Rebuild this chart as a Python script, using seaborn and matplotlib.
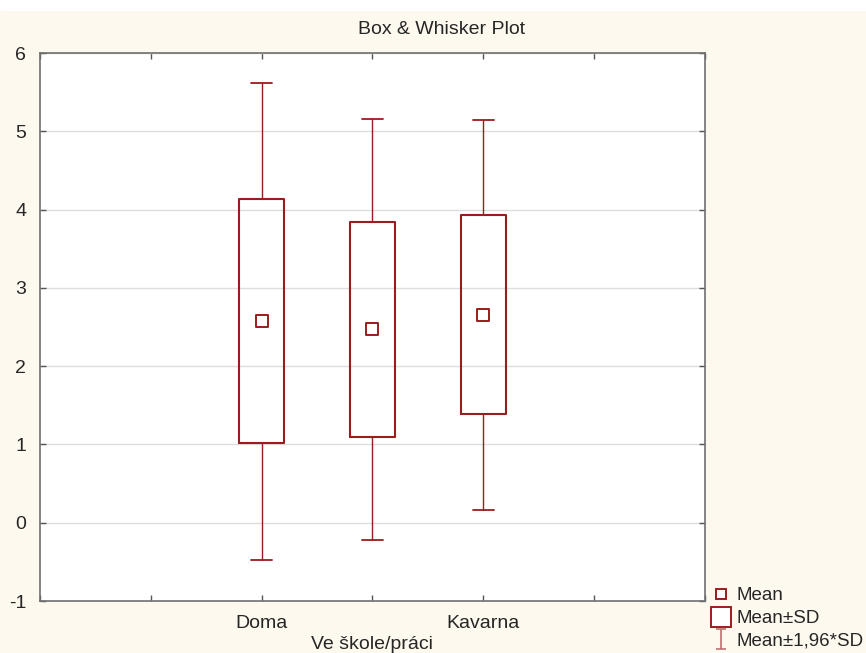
import matplotlib
matplotlib.use("Agg")
import matplotlib.pyplot as plt
import matplotlib.patches as mpatches
from matplotlib.lines import Line2D
from matplotlib.path import Path
import pandas as pd
import seaborn as sns

# data: mean and SD per group
categories = ["Doma", "Ve škole/práci", "Kavarna"]
means = [2.575, 2.47, 2.655]
sds = [1.555, 1.37, 1.27]
z = 1.96

RED = "#9b1c1c"
BG = "#fef9ee"

sns.set_theme(style="white")
plt.rcParams['font.family'] = ['Liberation Sans', 'DejaVu Sans']

df = pd.DataFrame({"group": categories, "mean": means, "sd": sds})
df["pos"] = range(len(df))

fig = plt.figure(figsize=(8.66, 6.53), dpi=100, facecolor=BG)
fig.patches.append(mpatches.Rectangle((0, 1 - 10 / 653), 1, 10 / 653,
                                      transform=fig.transFigure, color="white", zorder=-1))
ax = fig.add_axes([40 / 866, 1 - 601 / 653, 665 / 866, 548 / 653])
ax.set_facecolor("white")

# box = mean +- SD, whiskers = mean +- 1.96*SD
stats = []
for _, r in df.iterrows():
    stats.append({
        "med": r["mean"],
        "q1": r["mean"] - r["sd"],
        "q3": r["mean"] + r["sd"],
        "whislo": r["mean"] - z * r["sd"],
        "whishi": r["mean"] + z * r["sd"],
        "label": r["group"],
    })
ax.bxp(stats, positions=df["pos"], widths=0.4, showfliers=False,
       boxprops=dict(color=RED, linewidth=1.5),
       whiskerprops=dict(color=RED, linewidth=1.0),
       capprops=dict(color=RED, linewidth=1.3),
       medianprops=dict(linewidth=0),
       capwidths=0.19, manage_ticks=False)

sns.scatterplot(data=df, x="pos", y="mean", marker="s", s=75, color="white",
                edgecolor=RED, linewidth=1.4, ax=ax, zorder=5, legend=False)

ax.set_xlim(-2, 4)
ax.set_ylim(-1, 6)
ax.set_xticks(range(-2, 5))
labels = [""] * 7
for i, c in enumerate(categories):
    labels[i + 2] = c if i % 2 == 0 else "\n" + c
ax.set_xticklabels(labels, fontsize=14, linespacing=1.3)
ax.set_yticks(range(-1, 7))
ax.set_yticklabels([str(v) for v in range(-1, 7)], fontsize=14)
ax.yaxis.grid(True, color="#dddddd", linewidth=1)
ax.set_axisbelow(True)
ax.tick_params(axis="both", direction="in", length=4, width=1, color="#555555",
               top=True, right=True, bottom=True, left=True)
ax.tick_params(axis="x", pad=10)
ax.tick_params(axis="y", pad=10)
for s in ax.spines.values():
    s.set_color("#707070")
    s.set_linewidth(1.2)
ax.set_xlabel("")
ax.set_ylabel("")
fig.suptitle("Box & Whisker Plot", x=442 / 866, y=1 - 29 / 653, va="center", fontsize=14)

# I-beam marker for the 1.96*SD whisker
ibeam = Path([(-0.5, 1), (0.5, 1), (0, 1), (0, -1), (-0.5, -1), (0.5, -1)],
             [Path.MOVETO, Path.LINETO, Path.MOVETO, Path.LINETO, Path.MOVETO, Path.LINETO])
handles = [
    Line2D([], [], marker="s", linestyle="none", markersize=7, markerfacecolor="white",
           markeredgecolor=RED, markeredgewidth=1.4),
    Line2D([], [], marker="s", linestyle="none", markersize=14, markerfacecolor="white",
           markeredgecolor=RED, markeredgewidth=1.4),
    Line2D([], [], marker=ibeam, linestyle="none", markersize=14, color="#c07070",
           markeredgewidth=1.2, markerfacecolor="none"),
]
fig.legend(handles, ["Mean", "Mean±SD", "Mean±1,96*SD"], loc="lower left",
           bbox_to_anchor=(700 / 866, -10 / 653), frameon=False, fontsize=13.5,
           handlelength=0.8, handletextpad=0.45, labelspacing=0.3, borderpad=0.2)

fig.savefig("out.png", dpi=100, facecolor=BG)
